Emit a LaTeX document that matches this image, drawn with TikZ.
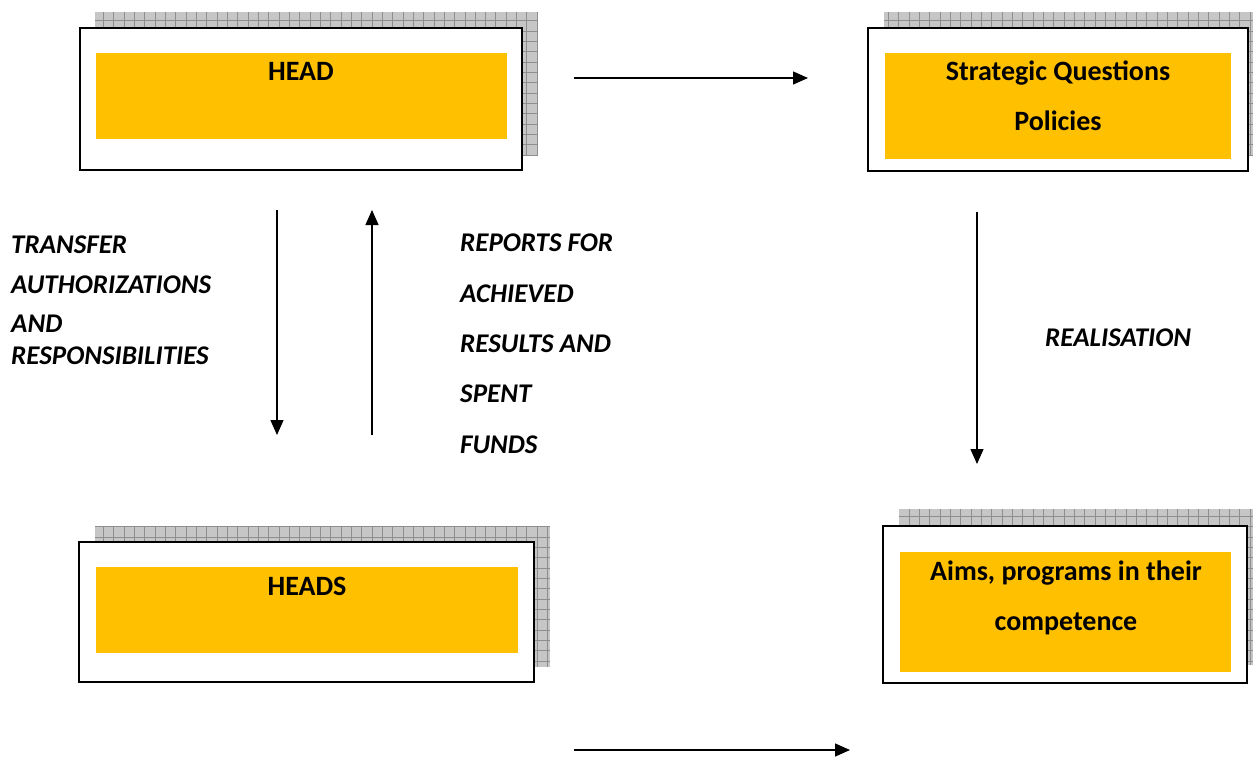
\documentclass[tikz,border=0pt]{standalone}
\usepackage{fontspec}
\setmainfont{Carlito}
\usetikzlibrary{arrows.meta}
\definecolor{boxorange}{HTML}{FFC000}
\definecolor{shadegray}{HTML}{C6C6C6}
\definecolor{gridgray}{HTML}{8E8E8E}
% gray hatched shadow behind each frame
\newcommand\gridshadow[4]{%
  \fill[shadegray] (#1,#2) rectangle (#3,#4);
  \begin{scope}
    \clip (#1,#2) rectangle (#3,#4);
    \draw[gridgray, line width=0.7pt, step=10.33pt] (#1,#2) grid (#3,#4);
  \end{scope}}
\begin{document}
\begin{tikzpicture}[x=1pt,y=-1pt,
  frame/.style={draw=black, line width=2pt, fill=white, inner sep=0, rectangle},
  band/.style={fill=boxorange, inner sep=0, rectangle},
  boxtext/.style={font=\fontsize{28}{50}\selectfont\bfseries, inner sep=0, anchor=base},
  lbl/.style={font=\fontsize{27}{30}\selectfont\bfseries\itshape, inner sep=0, anchor=base west},
  conn/.style={line width=1.4pt, -{Triangle[length=15pt,width=13pt]}}
]
\useasboundingbox (0,0) rectangle (1253,758);
\begin{scope}
\clip (0,0) rectangle (1253,758);

% HEAD
\gridshadow{95}{12}{538}{155}
\node[frame, minimum width=442, minimum height=142] (headframe) at (301,99) {};
\node[band, minimum width=411, minimum height=86] (headband) at (301.5,96) {};
\node[boxtext] (headtxt) at (301,80) {HEAD};

% Strategic questions / policies
\gridshadow{884}{12}{1260}{155}
\node[frame, minimum width=380, minimum height=143] (stratframe) at (1058,99.5) {};
\node[band, minimum width=346, minimum height=106] (stratband) at (1058,106) {};
\node[boxtext] (strattxt) at (1058,80) {Strategic Questions};
\node[boxtext] (policytxt) at (1058,130) {Policies};

% HEADS
\gridshadow{95}{526}{550}{667}
\node[frame, minimum width=455, minimum height=140] (headsframe) at (306.5,612) {};
\node[band, minimum width=422, minimum height=86] (headsband) at (307,610) {};
\node[boxtext] (headstxt) at (307,595) {HEADS};

% Aims, programs
\gridshadow{899}{509}{1260}{665}
\node[frame, minimum width=364, minimum height=157] (aimsframe) at (1065,604.5) {};
\node[band, minimum width=331, minimum height=120] (aimsband) at (1065.5,612) {};
\node[boxtext] (aimstxt) at (1066,580) {Aims, programs in their};
\node[boxtext] (comptxt) at (1066,630) {competence};

% connector end points
\coordinate (topA) at (574,78);
\coordinate (topB) at (808,78);
\coordinate (downA) at (277,210);
\coordinate (downB) at (277,435);
\coordinate (upA) at (372,435);
\coordinate (upB) at (372,210);
\coordinate (realA) at (977,212);
\coordinate (realB) at (977,464);
\coordinate (botA) at (574,750);
\coordinate (botB) at (850,750);

\draw[conn] (topA) -- (topB);
\draw[conn] (downA) -- (downB);
\draw[conn] (upA) -- (upB);
\draw[conn] (realA) -- (realB);
\draw[conn] (botA) -- (botB);

% arrow labels
\node[lbl] (tr1) at (11,253) {TRANSFER};
\node[lbl] (tr2) at (11,293) {AUTHORIZATIONS};
\node[lbl] (tr3) at (11,332) {AND};
\node[lbl] (tr4) at (11,364) {RESPONSIBILITIES};

\node[lbl] (rp1) at (460,251) {REPORTS FOR};
\node[lbl] (rp2) at (460,302) {ACHIEVED};
\node[lbl] (rp3) at (460,352) {RESULTS AND};
\node[lbl] (rp4) at (460,402) {SPENT};
\node[lbl] (rp5) at (460,453) {FUNDS};

\node[lbl] (real) at (1045,346) {REALISATION};
\end{scope}
\end{tikzpicture}
\end{document}
